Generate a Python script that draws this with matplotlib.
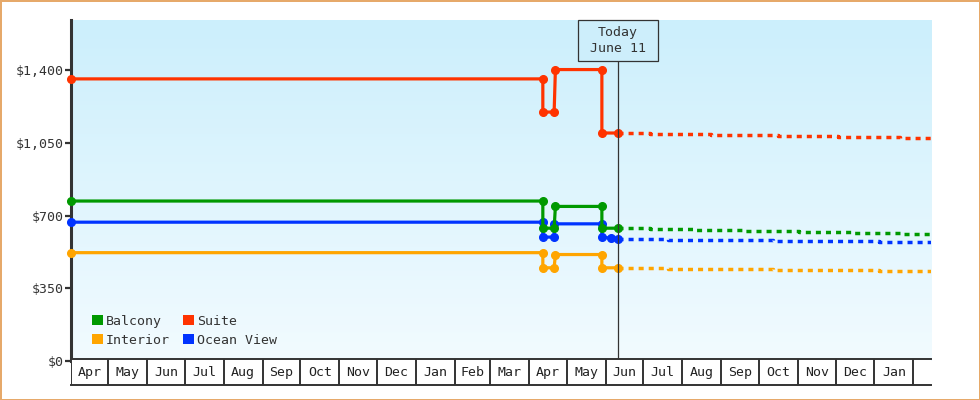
import numpy as np
import pandas as pd
import matplotlib
matplotlib.use('Agg')
import matplotlib.pyplot as plt
import matplotlib.dates as mdates
from matplotlib.patches import Rectangle, Patch
from matplotlib.transforms import blended_transform_factory

plt.rcParams['font.family'] = ['DejaVu Sans Mono']

# fare history (solid, with markers)
hist_dates = ['2022-04-01', '2023-04-12', '2023-04-12', '2023-04-21',
              '2023-04-22', '2023-05-29', '2023-05-29', '2023-06-11']
balcony_prices = [770, 770, 639, 639, 744, 744, 639, 639]
suite_prices = [1359, 1359, 1199, 1199, 1404, 1404, 1098, 1098]
interior_prices = [521, 521, 448, 448, 512, 512, 448, 448]
ocean_dates = ['2022-04-01', '2023-04-12', '2023-04-12', '2023-04-21', '2023-04-21',
               '2023-05-29', '2023-05-29', '2023-06-05', '2023-06-11']
ocean_prices = [668, 668, 596, 596, 660, 660, 596, 591, 588]

# forecast (dashed steps)
suite_fc_dates = ['2023-06-11', '2023-07-06', '2023-08-24', '2023-10-16',
                  '2023-12-03', '2024-01-21', '2024-02-15']
suite_fc = [1098, 1093, 1088, 1083, 1078, 1073, 1073]
balcony_fc_dates = ['2023-06-11', '2023-07-06', '2023-08-11', '2023-09-20',
                    '2023-11-02', '2023-12-14', '2024-01-23', '2024-02-15']
balcony_fc = [639, 634, 629, 624, 620, 615, 610, 610]
ocean_fc_dates = ['2023-06-11', '2023-07-21', '2023-10-12', '2024-01-05', '2024-02-15']
ocean_fc = [588, 582, 577, 572, 572]
interior_fc_dates = ['2023-06-11', '2023-07-06', '2023-07-21', '2023-10-12',
                     '2024-01-05', '2024-02-15']
interior_fc = [448, 445, 441, 437, 432, 432]

today = '2023-06-11'
x_start, x_end = '2022-04-01', '2024-02-15'
y_ticks = [0, 350, 700, 1050, 1400]
y_labels = ['$0', '$350', '$700', '$1,050', '$1,400']

colors = {'Balcony': '#009900', 'Suite': '#ff3300',
          'Interior': '#ffa500', 'Ocean View': '#0033ff'}

W, H = 980, 400
fig = plt.figure(figsize=(9.8, 4), dpi=100)
fig.patch.set_edgecolor('#e6a96a')
fig.patch.set_linewidth(2)

left_px, right_px, top_px, bottom_px = 70.5, 931, 20, 360.7
ax = fig.add_axes([left_px / W, 1 - bottom_px / H,
                   (right_px - left_px) / W, (bottom_px - top_px) / H])

# gradient background
grad = np.linspace(0, 1, 256)[:, None]
top_c = np.array([204, 239, 252]) / 255
bot_c = np.array([242, 251, 255]) / 255
img = top_c[None, None, :] * (1 - grad[:, :, None]) + bot_c[None, None, :] * grad[:, :, None]
ax.imshow(img, extent=[0, 1, 0, 1], transform=ax.transAxes, aspect='auto', zorder=0)

d = lambda s: pd.to_datetime(s)
lw = 2.3
series = [
    ('Ocean View', ocean_dates, ocean_prices, ocean_fc_dates, ocean_fc),
    ('Interior', hist_dates, interior_prices, interior_fc_dates, interior_fc),
    ('Balcony', hist_dates, balcony_prices, balcony_fc_dates, balcony_fc),
    ('Suite', hist_dates, suite_prices, suite_fc_dates, suite_fc),
]
for name, hd, hp, fd, fp in series:
    c = colors[name]
    ax.plot(d(fd), fp, color=c, lw=2.5, ls=(0, (1.45, 1.45)), dash_capstyle='butt',
            drawstyle='steps-post', zorder=3)
    ax.plot(d(hd), hp, color=c, lw=lw, marker='o', ms=5.5, zorder=4, clip_on=False)

ax.set_xlim(d(x_start), d(x_end))
ax.set_ylim(0, 1643)
ax.set_yticks(y_ticks)
ax.set_yticklabels(y_labels)
ax.set_xticks([])
for s in ['top', 'right', 'bottom']:
    ax.spines[s].set_visible(False)
ax.spines['left'].set_linewidth(2.2)
ax.spines['left'].set_color('#333333')
ax.tick_params(axis='y', length=4, width=1.6, color='#333333', labelsize=9.5,
               labelcolor='#333333', pad=1)

# today marker
t = mdates.date2num(d(today))
ax.axvline(d(today), color='#333333', lw=0.9, zorder=5)
x0, x1 = ax.get_xlim()
days_per_px = (x1 - x0) / (right_px - left_px)
box_h = 40.7 / (bottom_px - top_px)
trans = blended_transform_factory(ax.transData, ax.transAxes)
ax.add_patch(Rectangle((t - 40 * days_per_px, 1 - box_h), 80 * days_per_px, box_h,
                       transform=trans, facecolor='#cdeefb', edgecolor='#333333',
                       lw=0.9, zorder=6, clip_on=False))
ax.text(t, 1 - box_h / 2, 'Today\nJune 11', transform=trans, ha='center', va='center',
        fontsize=9.5, color='#333333', linespacing=1.3, zorder=7)

# legend
handles = [Patch(facecolor=colors[n], edgecolor='none', label=n)
           for n in ['Balcony', 'Interior', 'Suite', 'Ocean View']]
ax.legend(handles=handles, ncol=2, loc='lower left', bbox_to_anchor=(0.025, 0.041),
          frameon=False, fontsize=9.5, handlelength=0.8, handleheight=0.8,
          handletextpad=0.25, columnspacing=1.0, labelspacing=0.45, borderpad=0,
          borderaxespad=0, labelcolor='#333333')

# month boxes under the axis
mx = fig.add_axes([left_px / W, 15 / H, (right_px - left_px) / W, 25.7 / H], sharex=ax)
mx.set_facecolor('white')
mx.set_yticks([])
mx.set_ylim(0, 1)
for s in ['left', 'right']:
    mx.spines[s].set_visible(False)
for s in ['top', 'bottom']:
    mx.spines[s].set_linewidth(1.4)
    mx.spines[s].set_color('#333333')
mx.tick_params(axis='x', length=0, labelbottom=False)
month_starts = pd.date_range('2022-04-01', '2024-02-01', freq='MS')
for m in month_starts:
    mx.axvline(m, color='#333333', lw=1.4)
for a, b in zip(month_starts[:-1], month_starts[1:]):
    mx.text(a + (b - a) / 2, 0.48, a.strftime('%b'), ha='center', va='center',
            fontsize=9.5, color='#222222')
mx.set_xlim(d(x_start), d(x_end))

fig.savefig('out.png', dpi=100)
